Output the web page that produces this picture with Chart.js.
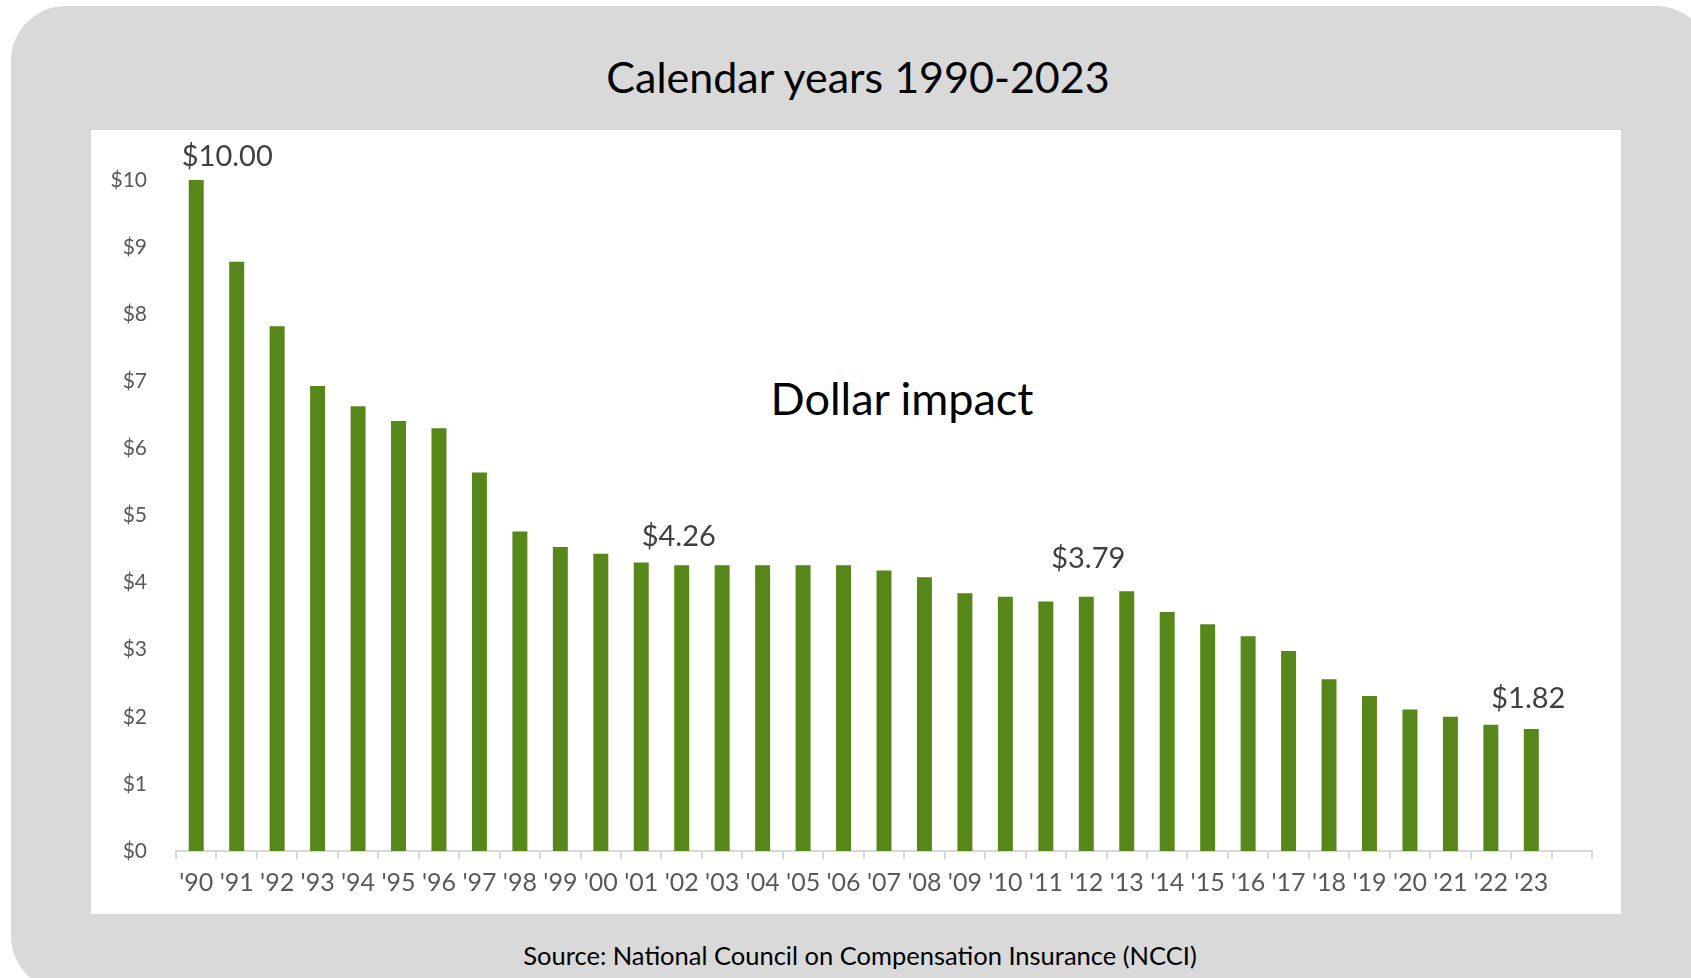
<!DOCTYPE html>
<html>
<head>
<meta charset="utf-8">
<script src="https://cdn.jsdelivr.net/npm/chart.js@4/dist/chart.umd.min.js"></script>
<style>
  html, body { margin: 0; padding: 0; background: #fff; width: 1691px; height: 978px; overflow: hidden; font-family: Lato, sans-serif; }
  #frame { position: absolute; left: 11px; top: 6px; width: 1700px; height: 985px; background: #d9d9d9; border-radius: 55px; }
  #panel { position: absolute; left: 91px; top: 130px; width: 1530px; height: 784px; background: #fff; }
  .txt { position: absolute; text-align: center; white-space: nowrap; color: #000; }
  #title { left: 358px; width: 1000px; top: 55px; font-size: 43px; line-height: 44px; }
  #impact { left: 652px; width: 500px; top: 375px; font-size: 45px; line-height: 46px; }
  #source { left: 460px; width: 800px; top: 941px; font-size: 25.5px; line-height: 28px; }
  #chartDollar { position: absolute; left: 0; top: 0; }
</style>
</head>
<body>
<div id="frame"></div>
<div id="panel"></div>
<div class="txt" id="title">Calendar years 1990-2023</div>
<div class="txt" id="impact">Dollar impact</div>
<div class="txt" id="source">Source: National Council on Compensation Insurance (NCCI)</div>
<canvas id="chartDollar" width="1691" height="978"></canvas>
<script>
// years shown on the axis (last slot is an empty category, as in the original)
const years = ["'90", "'91", "'92", "'93", "'94", "'95", "'96", "'97", "'98", "'99",
  "'00", "'01", "'02", "'03", "'04", "'05", "'06", "'07", "'08", "'09",
  "'10", "'11", "'12", "'13", "'14", "'15", "'16", "'17", "'18", "'19",
  "'20", "'21", "'22", "'23", ""];

// dollar impact per year
const dollarImpact = [10.00, 8.78, 7.82, 6.93, 6.63, 6.41, 6.30, 5.64, 4.76, 4.53,
  4.43, 4.30, 4.26, 4.26, 4.26, 4.26, 4.26, 4.18, 4.08, 3.84,
  3.79, 3.72, 3.79, 3.87, 3.56, 3.38, 3.20, 2.98, 2.56, 2.31,
  2.11, 2.00, 1.88, 1.82, null];

// y axis ticks ($0 .. $10)
const yTicks = [0, 1, 2, 3, 4, 5, 6, 7, 8, 9, 10];

// bars that carry a value label
const labelledYears = ["'90", "'02", "'12", "'23"];

// draws the few value labels above chosen bars
const valueLabels = {
    id: 'valueLabels',
    afterDatasetsDraw(chart, args, opts) {
        const ctx = chart.ctx;
        const meta = chart.getDatasetMeta(0);
        ctx.save();
        ctx.font = '29px Lato, sans-serif';
        ctx.fillStyle = '#404040';
        ctx.textAlign = 'center';
        ctx.textBaseline = 'middle';
        labelledYears.forEach(function(y, k) {
            const i = years.indexOf(y);
            const bar = meta.data[i];
            const off = opts.offsets[k];
            ctx.fillText('$' + dollarImpact[i].toFixed(2), bar.x + off[0], bar.y - off[1]);
        });
        ctx.restore();
    }
};

const ctx = document.getElementById('chartDollar').getContext('2d');
new Chart(ctx, {
    type: 'bar',
    data: {
        labels: years,
        datasets: [{
            label: 'Dollar impact',
            data: dollarImpact,
            backgroundColor: '#578718',
            borderWidth: 0,
            barPercentage: 0.37,
            categoryPercentage: 1.0
        }]
    },
    options: {
        responsive: false,
        animation: false,
        devicePixelRatio: 1,
        layout: { padding: { left: 100, right: 99, top: 180, bottom: 60 } },
        plugins: {
            legend: { display: false },
            tooltip: { enabled: false },
            valueLabels: { offsets: [[31, 23], [-3, 29], [2, 38], [-3, 30]] }
        },
        scales: {
            y: {
                min: 0,
                max: 10,
                afterFit: function(scale) { scale.width = 76; },
                afterBuildTicks: function(scale) { scale.ticks = yTicks.map(v => ({ value: v })); },
                grid: { display: false, drawTicks: false },
                border: { display: false },
                ticks: {
                    padding: 29,
                    color: '#595959',
                    font: { family: 'Lato', size: 21 },
                    callback: function(value) { return '$' + value; }
                }
            },
            x: {
                afterFit: function(scale) { scale.height = 67; },
                grid: {
                    display: true,
                    drawOnChartArea: false,
                    drawTicks: true,
                    tickLength: 8,
                    offset: true,
                    color: '#d9d9d9',
                    lineWidth: 2
                },
                border: { display: true, color: '#d9d9d9', width: 2 },
                ticks: {
                    autoSkip: false,
                    maxRotation: 0,
                    padding: 9,
                    color: '#595959',
                    font: { family: 'Lato', size: 25 }
                }
            }
        }
    },
    plugins: [valueLabels]
});
</script>
</body>
</html>
